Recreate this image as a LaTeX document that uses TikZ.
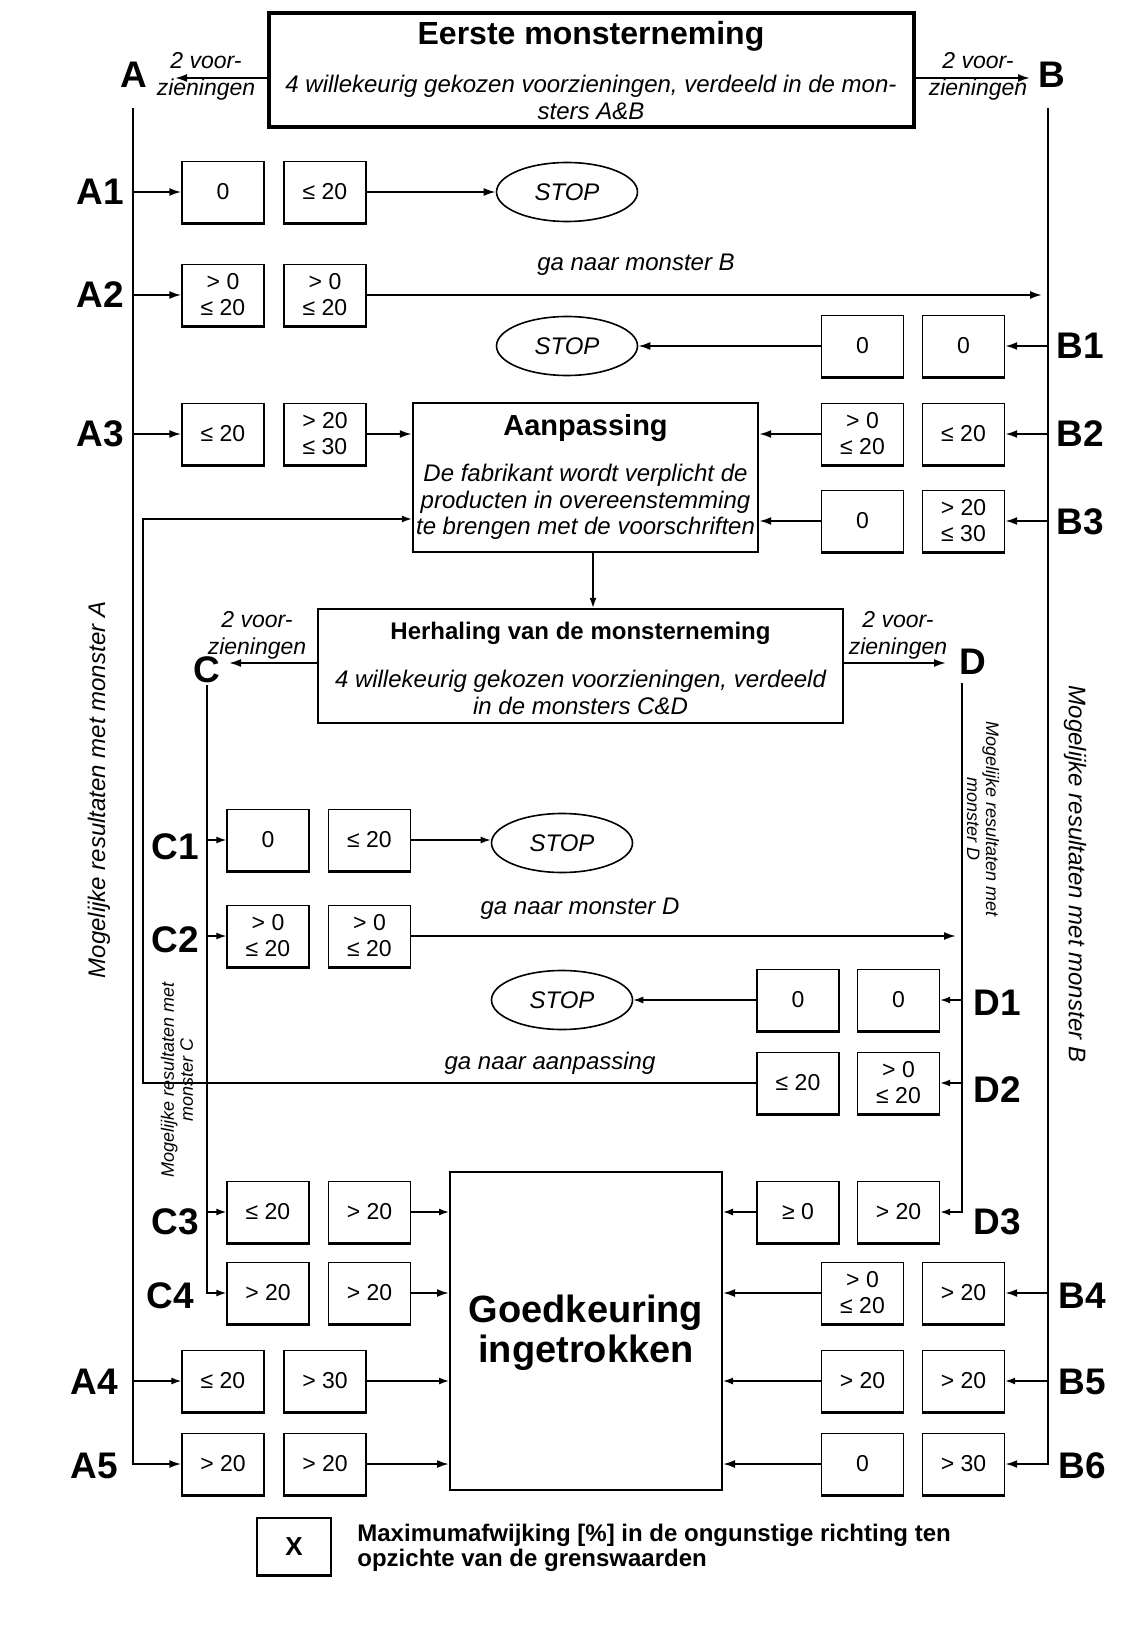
\documentclass[tikz,border=0pt]{standalone}
\usepackage{fontspec}
\setmainfont{Liberation Sans}
\usepackage{tikz}
\usetikzlibrary{calc}
\usetikzlibrary{arrows.meta, shapes.geometric}

\begin{document}
\begin{tikzpicture}[x=0.5pt, y=-0.5pt, every node/.style={inner sep=1pt},
    valbox/.style={draw, line width=0.7pt, minimum width=41pt, minimum height=30.5pt,
        inner sep=0pt, align=center, font=\fontsize{11.5}{13}\selectfont,
        append after command={(\tikzlastnode.south west) edge[line width=1.6pt] (\tikzlastnode.south east)}},
    stopnode/.style={draw, ellipse, line width=0.8pt, minimum width=70.5pt, minimum height=29.5pt,
        font=\fontsize{12}{14}\selectfont\itshape},
    letter/.style={font=\fontsize{18.5}{20}\selectfont\bfseries},
    twov/.style={align=center, font=\fontsize{11.5}{13.5}\selectfont\itshape},
    itx/.style={align=center, font=\fontsize{12}{13.5}\selectfont\itshape},
    arr/.style={-{Latex[length=6pt, width=4pt]}, line width=1pt},
    carr/.style={-{Latex[length=5pt, width=3.5pt]}, line width=0.7pt}]

    \useasboundingbox (0,0) rectangle (1143,1636);

    % 1. Eerste monsterneming
    \node[draw, line width=2pt, minimum width=322.5pt, minimum height=57.25pt] (first) at (591.5,70) {};
    \node[font=\fontsize{16}{18}\selectfont\bfseries] (firstT) at (591,36) {Eerste monsterneming};
    \node[itx] (firstB) at (591,97) {4 willekeurig gekozen voorzieningen, verdeeld in de mon-\\sters A\&B};
    \node[letter] (A) at (134,75) {A};
    \node[letter] (B) at (1052,75) {B};
    \coordinate (Aend) at (175,78);
    \coordinate (Bend) at (1030,78);
    \draw[arr] (first.west |- Aend) -- (Aend);
    \draw[arr] (first.east |- Bend) -- (Bend);
    \node[twov] (vA) at (206,76) {2 voor-\\zieningen};
    \node[twov] (vB) at (978,76) {2 voor-\\zieningen};

    % 2. Lijnen A en B
    \coordinate (Atop) at (133,108);
    \coordinate (Btop) at (1048,108);
    \node[rotate=90, font=\fontsize{12}{14}\selectfont\itshape] (resA) at (99,790) {Mogelijke resultaten met monster A};
    \node[rotate=-90, font=\fontsize{12}{14}\selectfont\itshape] (resB) at (1075,874) {Mogelijke resultaten met monster B};

    % 3. Monster A, rijen A1 en A2
    \node[letter] (lA1) at (100,192) {A1};
    \node[valbox] (a1a) at (223,192) {0};
    \node[valbox] (a1b) at (325,192) {≤ 20};
    \node[stopnode] (stop1) at (567,192) {STOP};
    \draw[arr] (a1a.west -| Atop) -- (a1a.west);
    \draw[arr] (a1b.east) -- (stop1.west);

    \node[letter] (lA2) at (100,295) {A2};
    \node[valbox] (a2a) at (223,295) {> 0\\≤ 20};
    \node[valbox] (a2b) at (325,295) {> 0\\≤ 20};
    \node[itx] (gaB) at (636,265) {ga naar monster B};
    \draw[arr] (a2a.west -| Atop) -- (a2a.west);
    \draw[arr, shorten >=3pt] (a2b.east) -- (a2b.east -| Btop);

    % 4. B1
    \node[letter] (lB1) at (1080,346) {B1};
    \node[valbox] (b1a) at (862.5,346) {0};
    \node[valbox] (b1b) at (963.5,346) {0};
    \node[stopnode] (stop2) at (567,346) {STOP};
    \draw[arr] (b1b.east -| Btop) -- (b1b.east);
    \draw[arr] (b1a.west) -- (stop2.east);

    % 5. Aanpassing met A3, B2, B3
    \node[draw, line width=1.2pt, minimum width=172.5pt, minimum height=74.5pt] (aanp) at (585.5,477.5) {};
    \node[font=\fontsize{14.5}{16}\selectfont\bfseries] (aanpT) at (585.5,428) {Aanpassing};
    \node[itx, inner sep=0pt, font=\fontsize{12}{13.25}\selectfont\itshape] (aanpB) at (585.5,502)
        {De fabrikant wordt verplicht de\\producten in overeenstemming\\te brengen met de voorschriften};

    \node[letter] (lA3) at (100,434) {A3};
    \node[valbox] (a3a) at (223,434) {≤ 20};
    \node[valbox] (a3b) at (325,434) {> 20\\≤ 30};
    \draw[arr] (a3a.west -| Atop) -- (a3a.west);
    \draw[arr] (a3b.east) -- (a3b.east -| aanp.west);

    \node[letter] (lB2) at (1080,434) {B2};
    \node[valbox] (b2a) at (862.5,434) {> 0\\≤ 20};
    \node[valbox] (b2b) at (963.5,434) {≤ 20};
    \draw[arr] (b2b.east -| Btop) -- (b2b.east);
    \draw[arr] (b2a.west) -- (b2a.west -| aanp.east);

    \node[letter] (lB3) at (1080,522) {B3};
    \node[valbox] (b3a) at (862.5,521) {0};
    \node[valbox] (b3b) at (963.5,521) {> 20\\≤ 30};
    \draw[arr] (b3b.east -| Btop) -- (b3b.east);
    \draw[arr] (b3a.west) -- (b3a.west -| aanp.east);

    % 6. Herhaling van de monsterneming
    \node[draw, line width=1.2pt, minimum width=262.5pt, minimum height=57pt] (herh) at (580.5,666) {};
    \node[font=\fontsize{12}{14}\selectfont\bfseries] (herhT) at (580.5,633) {Herhaling van de monsterneming};
    \node[itx] (herhB) at (580.5,692) {4 willekeurig gekozen voorzieningen, verdeeld\\in de monsters C\&D};
    \coordinate (link) at (593,0);
    \draw[carr] (aanp.south -| link) -- (herh.north -| link);

    \node[letter] (C) at (207,670) {C};
    \node[letter] (D) at (973,662) {D};
    \coordinate (Cend) at (229,663);
    \coordinate (Dend) at (946,663);
    \draw[arr] (herh.west |- Cend) -- (Cend);
    \draw[arr] (herh.east |- Dend) -- (Dend);
    \node[twov] (vC) at (257,635) {2 voor-\\zieningen};
    \node[twov] (vD) at (898,635) {2 voor-\\zieningen};

    \coordinate (Ctop) at (207,685);
    \coordinate (Dtop) at (962,683);
    \node[rotate=-90, align=center, font=\fontsize{9}{9.5}\selectfont\itshape] (resD) at (983,819) {Mogelijke resultaten met\\monster D};
    \node[rotate=90, align=center, font=\fontsize{9}{9.5}\selectfont\itshape] (resC) at (177,1080) {Mogelijke resultaten met\\monster C};

    % 7. Monster C en D
    \node[letter] (lC1) at (175,847) {C1};
    \node[valbox] (c1a) at (268,840) {0};
    \node[valbox] (c1b) at (369.5,840) {≤ 20};
    \node[stopnode] (stop3) at (562,843) {STOP};
    \draw[carr] (c1a.west -| Ctop) -- (c1a.west);
    \draw[carr] (c1b.east) -- (c1b.east -| stop3.west);

    \node[letter] (lC2) at (175,940) {C2};
    \node[valbox] (c2a) at (268,936) {> 0\\≤ 20};
    \node[valbox] (c2b) at (369.5,936) {> 0\\≤ 20};
    \node[itx] (gaD) at (580,909) {ga naar monster D};
    \draw[carr] (c2a.west -| Ctop) -- (c2a.west);
    \draw[arr, shorten >=3pt] (c2b.east) -- (c2b.east -| Dtop);

    \node[letter] (lD1) at (997,1003) {D1};
    \node[valbox] (d1a) at (798,1000) {0};
    \node[valbox] (d1b) at (898.5,1000) {0};
    \node[stopnode] (stop4) at (562,1000) {STOP};
    \draw[carr] (d1b.east -| Dtop) -- (d1b.east);
    \draw[carr] (d1a.west) -- (stop4.east);

    \node[letter] (lD2) at (997,1090) {D2};
    \node[valbox] (d2a) at (798,1083) {≤ 20};
    \node[valbox] (d2b) at (898.5,1083) {> 0\\≤ 20};
    \node[itx] (gaAanp) at (550,1063) {ga naar aanpassing};
    \draw[carr] (d2b.east -| Dtop) -- (d2b.east);
    \coordinate (ret) at (143,519);
    \draw[carr] (d2a.west) -| (ret) -- (aanp.west |- ret);

    % 8. Goedkeuring ingetrokken
    \node[draw, line width=1pt, minimum width=136pt, minimum height=159pt] (goed) at (586,1331) {};
    \node[align=center, font=\fontsize{19}{20}\selectfont\bfseries] (goedT) at (586,1333) {Goedkeuring\\ingetrokken};

    \node[letter] (lC3) at (175,1222) {C3};
    \node[valbox] (c3a) at (268,1212) {≤ 20};
    \node[valbox] (c3b) at (369.5,1212) {> 20};
    \draw[carr] (c3a.west -| Ctop) -- (c3a.west);
    \draw[carr] (c3b.east) -- (c3b.east -| goed.west);

    \node[letter] (lC4) at (170,1296) {C4};
    \node[valbox] (c4a) at (268,1293) {> 20};
    \node[valbox] (c4b) at (369.5,1293) {> 20};
    \draw[carr] (Ctop) |- (c4a.west);
    \draw[arr] (c4b.east) -- (c4b.east -| goed.west);

    \node[letter] (lA4) at (94,1382) {A4};
    \node[valbox] (a4a) at (223,1381) {≤ 20};
    \node[valbox] (a4b) at (325,1381) {> 30};
    \draw[carr] (a4a.west -| Atop) -- (a4a.west);
    \draw[carr] (a4b.east) -- (a4b.east -| goed.west);

    \node[letter] (lA5) at (94,1466) {A5};
    \node[valbox] (a5a) at (223,1464) {> 20};
    \node[valbox] (a5b) at (325,1464) {> 20};
    \draw[arr] (Atop) |- (a5a.west);
    \draw[arr] (a5b.east) -- (a5b.east -| goed.west);

    \node[letter] (lD3) at (997,1222) {D3};
    \node[valbox] (d3a) at (798,1212) {≥ 0};
    \node[valbox] (d3b) at (898.5,1212) {> 20};
    \draw[carr] (Dtop) |- (d3b.east);
    \draw[carr] (d3a.west) -- (d3a.west -| goed.east);

    \node[letter] (lB4) at (1082,1296) {B4};
    \node[valbox] (b4a) at (862.5,1293) {> 0\\≤ 20};
    \node[valbox] (b4b) at (963.5,1293) {> 20};
    \draw[arr] (b4b.east -| Btop) -- (b4b.east);
    \draw[arr] (b4a.west) -- (b4a.west -| goed.east);

    \node[letter] (lB5) at (1082,1382) {B5};
    \node[valbox] (b5a) at (862.5,1381) {> 20};
    \node[valbox] (b5b) at (963.5,1381) {> 20};
    \draw[carr] (b5b.east -| Btop) -- (b5b.east);
    \draw[carr] (b5a.west) -- (b5a.west -| goed.east);

    \node[letter] (lB6) at (1082,1466) {B6};
    \node[valbox] (b6a) at (862.5,1464) {0};
    \node[valbox] (b6b) at (963.5,1464) {> 30};
    \draw[arr] (Btop) |- (b6b.east);
    \draw[arr] (b6a.west) -- (b6a.west -| goed.east);

    % 9. Legenda
    \node[valbox, minimum width=37pt, minimum height=28.5pt, font=\fontsize{13}{15}\selectfont\bfseries] (key) at (294,1546.5) {X};
    \node[anchor=west, align=left, font=\fontsize{12}{12.5}\selectfont\bfseries] (keyT) at (355,1548)
        {Maximumafwijking [\%] in de ongunstige richting ten\\opzichte van de grenswaarden};

\end{tikzpicture}
\end{document}
